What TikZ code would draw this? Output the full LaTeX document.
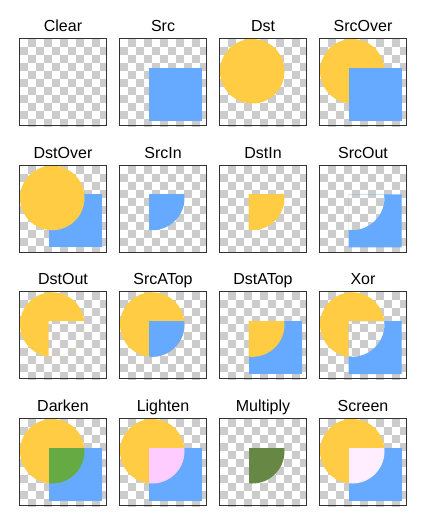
\documentclass[tikz,border=0pt]{standalone}
\usepackage{fontspec}
\setmainfont{Liberation Sans}
\definecolor{dstc}{HTML}{FFCC44}
\definecolor{srcc}{HTML}{66AAFF}
\definecolor{chk}{HTML}{CCCCCC}
\definecolor{darkc}{HTML}{66AA44}
\definecolor{lightc}{HTML}{FFCCFF}
\definecolor{mulc}{HTML}{668844}
\definecolor{scrc}{HTML}{FFEEFF}
\definecolor{framec}{HTML}{333333}
\newcommand\pdC{(33.25,33.25) circle[radius=32.25pt]}
\newcommand\pdR{(29.7,29.7) rectangle (82.7,82.7)}
\tikzset{
  tiletitle/.style={anchor=base, font=\fontsize{16}{19}\selectfont, text=black, inner sep=0pt},
  tileframe/.style={draw=framec, line width=1pt}
}
\newcommand\pdtile[4]{%
  \begin{scope}[shift={({19+100*#1},{38+126.67*#2})}]
    \fill[white] (0,0) rectangle (88,88);
    \begin{scope}
      \clip (0,0) rectangle (88,88);
      \foreach \i in {0,...,10}{\foreach \j in {0,...,10}{%
        \pgfmathtruncatemacro\pdpar{mod(\i+\j,2)}%
        \ifnum\pdpar=1 \fill[chk] ({1+8*\i},{1+8*\j}) rectangle ++(8,8);\fi}}
    \end{scope}
    #4
    \draw[tileframe] (0.5,0.5) rectangle (87.5,87.5);
    \node[tiletitle] (#3) at (44,-6.5) {#3};
  \end{scope}}
\begin{document}
\begin{tikzpicture}[x=1pt,y=-1pt]
\useasboundingbox (0,0) rectangle (431,528);
% row 1
\pdtile{0}{0}{Clear}{}
\pdtile{1}{0}{Src}{\fill[srcc] \pdR;}
\pdtile{2}{0}{Dst}{\fill[dstc] \pdC;}
\pdtile{3}{0}{SrcOver}{\fill[dstc] \pdC; \fill[srcc] \pdR;}
% row 2
\pdtile{0}{1}{DstOver}{\fill[srcc] \pdR; \fill[dstc] \pdC;}
\pdtile{1}{1}{SrcIn}{\begin{scope}\clip \pdC; \fill[srcc] \pdR;\end{scope}}
\pdtile{2}{1}{DstIn}{\begin{scope}\clip \pdR; \fill[dstc] \pdC;\end{scope}}
\pdtile{3}{1}{SrcOut}{\begin{scope}\clip \pdR; \fill[srcc,even odd rule] \pdR \pdC;\end{scope}}
% row 3
\pdtile{0}{2}{DstOut}{\begin{scope}\clip \pdC; \fill[dstc,even odd rule] \pdC \pdR;\end{scope}}
\pdtile{1}{2}{SrcATop}{\fill[dstc] \pdC; \begin{scope}\clip \pdC; \fill[srcc] \pdR;\end{scope}}
\pdtile{2}{2}{DstATop}{\fill[srcc] \pdR; \begin{scope}\clip \pdR; \fill[dstc] \pdC;\end{scope}}
\pdtile{3}{2}{Xor}{\begin{scope}\clip \pdC; \fill[dstc,even odd rule] \pdC \pdR;\end{scope}
  \begin{scope}\clip \pdR; \fill[srcc,even odd rule] \pdR \pdC;\end{scope}}
% row 4
\pdtile{0}{3}{Darken}{\fill[dstc] \pdC; \fill[srcc] \pdR; \begin{scope}\clip \pdC; \fill[darkc] \pdR;\end{scope}}
\pdtile{1}{3}{Lighten}{\fill[dstc] \pdC; \fill[srcc] \pdR; \begin{scope}\clip \pdC; \fill[lightc] \pdR;\end{scope}}
\pdtile{2}{3}{Multiply}{\begin{scope}\clip \pdC; \fill[mulc] \pdR;\end{scope}}
\pdtile{3}{3}{Screen}{\fill[dstc] \pdC; \fill[srcc] \pdR; \begin{scope}\clip \pdC; \fill[scrc] \pdR;\end{scope}}
\end{tikzpicture}
\end{document}
